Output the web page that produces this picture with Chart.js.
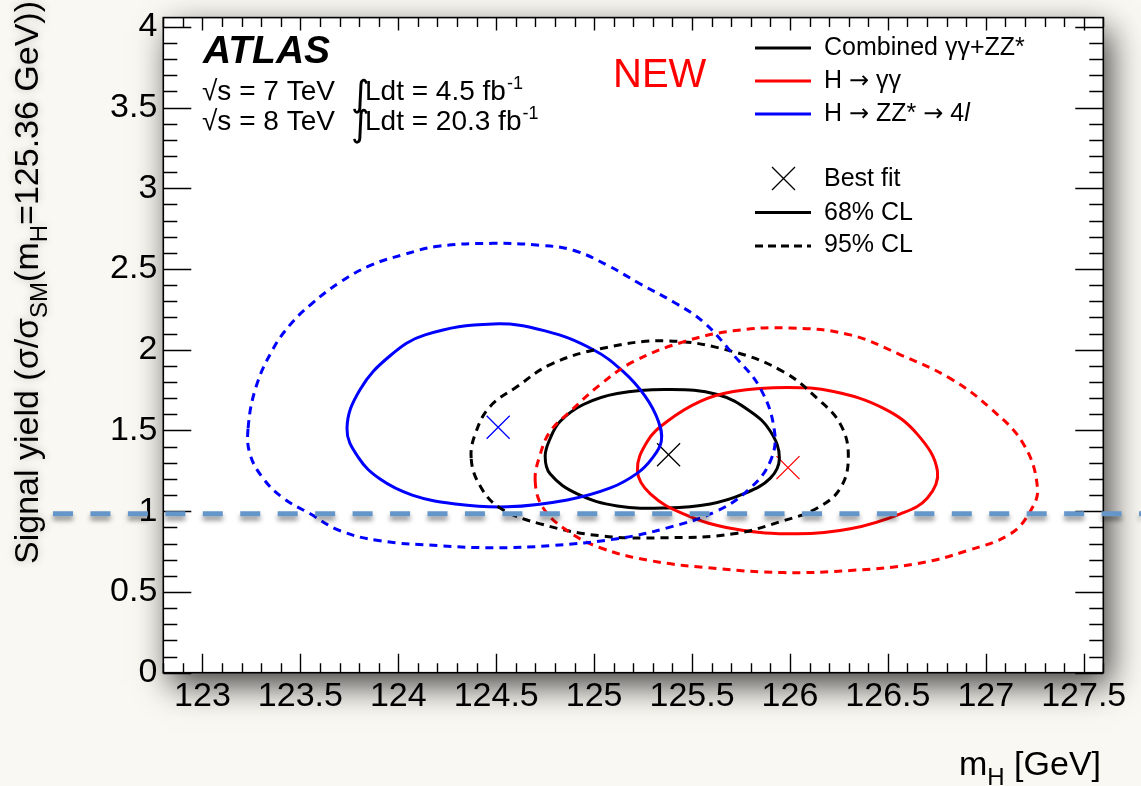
<!DOCTYPE html>
<html><head><meta charset="utf-8">
<script src="https://cdn.jsdelivr.net/npm/chart.js@4.4.0/dist/chart.umd.min.js"></script>
<style>html,body{margin:0;padding:0;background:#faf8f2;overflow:hidden}</style>
</head><body>
<canvas id="c" width="1141" height="786"></canvas>
<script>
// ---------- data ----------
const xTicks = [123, 123.5, 124, 124.5, 125, 125.5, 126, 126.5, 127, 127.5];
const xTickLabels = ['123','123.5','124','124.5','125','125.5','126','126.5','127','127.5'];
const yTicks = [0, 0.5, 1, 1.5, 2, 2.5, 3, 3.5, 4];
const yTickLabels = ['0','0.5','1','1.5','2','2.5','3','3.5','4'];
const xRange = [122.8, 127.6];
const yRange = [0, 4.057];

// H -> ZZ* -> 4l, 68% CL
const zz68X = [123.738,123.805,123.958,124.137,124.485,124.750,124.996,125.149,125.261,125.328,125.343,125.297,125.221,125.083,124.863,124.556,124.291,124.071,123.907,123.795];
const zz68Y = [1.513,1.754,1.963,2.092,2.160,2.117,2.000,1.864,1.711,1.557,1.433,1.329,1.236,1.144,1.070,1.027,1.045,1.100,1.199,1.335];
// H -> ZZ* -> 4l, 95% CL
const zz95X = [123.233,123.274,123.361,123.447,123.550,123.703,123.861,124.035,124.204,124.485,124.725,124.894,125.067,125.236,125.405,125.558,125.711,125.849,125.921,125.900,125.798,125.629,125.374,125.118,124.776,124.485,124.204,123.907,123.703,123.550,123.412,123.309,123.243];
const zz95Y = [1.513,1.772,2.006,2.154,2.277,2.419,2.524,2.592,2.641,2.659,2.647,2.616,2.524,2.407,2.296,2.172,1.969,1.760,1.495,1.310,1.144,1.002,0.897,0.830,0.787,0.774,0.787,0.817,0.879,0.984,1.082,1.205,1.353];
// Combined, 68% CL
const comb68X = [124.750,124.776,124.827,124.945,125.118,125.374,125.629,125.798,125.900,125.946,125.900,125.762,125.593,125.374,125.118,124.914,124.776];
const comb68Y = [1.341,1.452,1.557,1.661,1.729,1.754,1.723,1.618,1.495,1.329,1.205,1.107,1.045,1.020,1.033,1.107,1.230];
// Combined, 95% CL
const comb95X = [124.372,124.398,124.469,124.607,124.776,125.031,125.374,125.711,125.966,126.140,126.258,126.298,126.258,126.140,125.966,125.711,125.374,125.031,124.725,124.520,124.418];
const comb95Y = [1.329,1.495,1.649,1.772,1.908,2.006,2.055,1.988,1.864,1.698,1.538,1.341,1.144,1.020,0.941,0.860,0.836,0.848,0.922,1.020,1.156];
// H -> gamma gamma, 68% CL
const gg68X = [125.221,125.272,125.374,125.542,125.711,125.987,126.222,126.478,126.651,126.753,126.702,126.564,126.308,126.038,125.711,125.456,125.287];
const gg68Y = [1.249,1.433,1.557,1.680,1.741,1.766,1.741,1.637,1.476,1.249,1.082,0.984,0.891,0.860,0.891,0.984,1.107];
// H -> gamma gamma, 95% CL
const gg95X = [124.699,124.725,124.776,124.878,125.031,125.200,125.456,125.711,126.002,126.308,126.564,126.820,127.024,127.193,127.264,127.228,127.126,126.906,126.651,126.308,125.966,125.629,125.287,125.031,124.863,124.740];
const gg95Y = [1.187,1.353,1.495,1.618,1.784,1.926,2.049,2.117,2.135,2.092,1.969,1.821,1.637,1.415,1.144,1.002,0.860,0.756,0.676,0.633,0.620,0.645,0.694,0.774,0.879,1.020];
// best fits: combined, gamma gamma, ZZ
const bestFitX = [125.38, 125.99, 124.51];
const bestFitY = [1.35, 1.27, 1.52];
const smYield = 0.985;

// ---------- helpers ----------
const FONT = "'Liberation Sans', Arial, Helvetica, sans-serif";
function pts(xs, ys){ return xs.map((x,i)=>({x:x, y:ys[i]})); }
function contour(xs, ys, color, dashed){
  return { type:'line', data: pts(xs, ys), borderColor: color, borderWidth: 3,
    borderDash: dashed ? [8,6] : [], pointRadius: 0, fill: false, tension: 0.4, closedLoop: true };
}

// make the contour lines closed, smooth loops
const loopPlugin = {
  id: 'loop',
  beforeDatasetsDraw(chart){
    chart.data.datasets.forEach((ds, i) => {
      if (!ds.closedLoop) return;
      const el = chart.getDatasetMeta(i).dataset;
      if (!el) return;
      el._loop = true; el._fullLoop = true;
      el._pointsUpdated = false; el._segments = undefined; el._path = undefined;
    });
  }
};

function drawSegs(ctx, segs, x, y){
  for (const s of segs){
    ctx.font = s.f;
    ctx.fillText(s.t, x, y + (s.dy || 0));
    x += ctx.measureText(s.t).width + (s.gap || 0);
  }
  return x;
}

const deco = {
  id: 'deco',
  beforeDraw(chart){
    const ctx = chart.ctx, a = chart.chartArea;
    ctx.save();
    ctx.fillStyle = '#faf8f2';
    ctx.fillRect(0, 0, chart.width, chart.height);
    ctx.shadowColor = 'rgba(0,0,0,0.75)';
    ctx.shadowBlur = 32; ctx.shadowOffsetX = 7; ctx.shadowOffsetY = 12;
    ctx.fillStyle = '#ffffff';
    ctx.fillRect(a.left, a.top, a.right - a.left, a.bottom - a.top);
    ctx.restore();

    // y axis title
    ctx.save();
    ctx.translate(38, 564);
    ctx.rotate(-Math.PI/2);
    ctx.fillStyle = '#000';
    ctx.shadowColor = 'rgba(0,0,0,0.25)'; ctx.shadowBlur = 8;
    drawSegs(ctx, [
      {t:'Signal yield (\u03c3/\u03c3', f:'34px '+FONT},
      {t:'SM', f:'24px '+FONT, dy:9},
      {t:'(m', f:'34px '+FONT},
      {t:'H', f:'24px '+FONT, dy:9},
      {t:'=125.36 GeV))', f:'34px '+FONT}], 0, 0);
    ctx.restore();

    // x axis title (right aligned)
    ctx.save();
    ctx.fillStyle = '#000';
    const xsegs = [{t:'m', f:'34px '+FONT},{t:'H', f:'24px '+FONT, dy:10},{t:' [GeV]', f:'34px '+FONT}];
    let tw = 0;
    for (const s of xsegs){ ctx.font = s.f; tw += ctx.measureText(s.t).width; }
    drawSegs(ctx, xsegs, 1101 - tw, 775);
    ctx.restore();
  },
  afterDatasetsDraw(chart){
    const ctx = chart.ctx, a = chart.chartArea;
    const xs = chart.scales.x, ys = chart.scales.y;
    ctx.save();
    ctx.strokeStyle = '#000'; ctx.lineWidth = 1.6;
    ctx.strokeRect(a.left, a.top, a.right - a.left, a.bottom - a.top);
    ctx.lineWidth = 1.4;
    ctx.beginPath();
    for (let i = Math.ceil(xRange[0]*10); i <= Math.floor(xRange[1]*10); i++){
      const p = Math.round(xs.getPixelForValue(i/10)) + 0.5;
      const major = i % 5 === 0;
      ctx.moveTo(p, a.bottom); ctx.lineTo(p, a.bottom - (major ? 19 : 9.5));
      ctx.moveTo(p, a.top); ctx.lineTo(p, a.top + (major ? 13 : 9.5));
    }
    for (let i = 0; i <= Math.floor(yRange[1]*10); i++){
      const p = Math.round(ys.getPixelForValue(i/10)) + 0.5;
      const major = i % 5 === 0;
      ctx.moveTo(a.left, p); ctx.lineTo(a.left + (major ? 28 : 14), p);
      ctx.moveTo(a.right, p); ctx.lineTo(a.right - (major ? 28 : 14), p);
    }
    ctx.stroke();

    // ATLAS label
    ctx.fillStyle = '#000';
    ctx.font = 'italic bold 39px ' + FONT;
    ctx.fillText('ATLAS', 203, 63);
    const lumi = [['\u221As = 7 TeV','Ldt = 4.5 fb',100],['\u221As = 8 TeV','Ldt = 20.3 fb',130]];
    for (const l of lumi){
      ctx.font = '28px ' + FONT;
      ctx.fillText(l[0], 202, l[2]);
      ctx.fillText(l[1], 365, l[2]);
      const w = ctx.measureText(l[1]).width;
      ctx.font = '18px ' + FONT;
      ctx.fillText('-1', 365 + w + 1, l[2] - 11);
      ctx.font = '36px "DejaVu Sans"';
      ctx.fillText('\u222B', 351, l[2] + 6);
    }
    // NEW
    ctx.fillStyle = '#ff0000';
    ctx.font = '40px ' + FONT;
    ctx.fillText('NEW', 613, 87);

    // legend
    const F = '25px ' + FONT, A = '24px "DejaVu Sans"';
    const leg = [
      {c:'#000', d:false, ly:48, ty:55, segs:[{t:'Combined \u03b3\u03b3+ZZ*', f:F}]},
      {c:'#ff0000', d:false, ly:81, ty:88, segs:[{t:'H ', f:F},{t:'\u2192', f:A},{t:' \u03b3\u03b3', f:F}]},
      {c:'#0000ff', d:false, ly:114, ty:121, segs:[{t:'H ', f:F},{t:'\u2192', f:A},{t:' ZZ* ', f:F},{t:'\u2192', f:A},{t:' 4', f:F},{t:'l', f:'italic 25px '+FONT}]},
      {c:'#000', d:false, ly:212.5, ty:220, segs:[{t:'68% CL', f:F}]},
      {c:'#000', d:true, ly:246, ty:252, segs:[{t:'95% CL', f:F}]}
    ];
    ctx.fillStyle = '#000';
    for (const e of leg){
      ctx.strokeStyle = e.c; ctx.lineWidth = 3.2;
      ctx.setLineDash(e.d ? [8,5] : []);
      ctx.beginPath(); ctx.moveTo(755, e.ly); ctx.lineTo(811, e.ly); ctx.stroke();
      ctx.setLineDash([]);
      drawSegs(ctx, e.segs, 824, e.ty);
    }
    ctx.font = F;
    ctx.fillText('Best fit', 824, 186);
    ctx.strokeStyle = '#000'; ctx.lineWidth = 1.3;
    ctx.beginPath();
    ctx.moveTo(772, 167); ctx.lineTo(795, 190);
    ctx.moveTo(795, 167); ctx.lineTo(772, 190);
    ctx.stroke();
    ctx.restore();
  },
  afterDraw(chart){
    const ctx = chart.ctx;
    const y = chart.scales.y.getPixelForValue(smYield);
    ctx.save();
    ctx.strokeStyle = '#6596c9';
    ctx.lineWidth = 5;
    ctx.setLineDash([20, 17.45]);
    ctx.shadowColor = 'rgba(0,0,0,0.45)'; ctx.shadowBlur = 5; ctx.shadowOffsetY = 4;
    ctx.beginPath(); ctx.moveTo(53, y); ctx.lineTo(chart.width, y); ctx.stroke();
    ctx.restore();
  }
};

new Chart(document.getElementById('c'), {
  type: 'line',
  data: {
    datasets: [
      contour(zz95X, zz95Y, '#0000ff', true),
      contour(gg95X, gg95Y, '#ff0000', true),
      contour(comb95X, comb95Y, '#000000', true),
      contour(zz68X, zz68Y, '#0000ff', false),
      contour(gg68X, gg68Y, '#ff0000', false),
      contour(comb68X, comb68Y, '#000000', false),
      { type:'scatter', data: pts(bestFitX, bestFitY),
        pointStyle:'crossRot', pointRadius:16.3, pointBorderWidth:1.3,
        pointBorderColor:['#000000','#ff0000','#0000ff'], pointBackgroundColor:'rgba(0,0,0,0)', showLine:false }
    ]
  },
  options: {
    responsive: false, animation: false, devicePixelRatio: 1,
    layout: { padding: { left: 0, top: 14, right: 37.7, bottom: 0 } },
    plugins: { legend: { display: false }, tooltip: { enabled: false } },
    scales: {
      x: { type: 'linear', min: xRange[0], max: xRange[1],
        grid: { display: false, drawTicks: false }, border: { display: false },
        ticks: { color: '#000', font: { family: FONT, size: 34 }, padding: 4, maxRotation: 0, autoSkip: false,
          callback: (v, i) => xTickLabels[i] },
        afterBuildTicks: s => { s.ticks = xTicks.map(v => ({ value: v })); },
        afterFit: s => { s.height = 786 - 672.7; s.paddingLeft = 0; s.paddingRight = 0; } },
      y: { type: 'linear', min: yRange[0], max: yRange[1],
        grid: { display: false, drawTicks: false }, border: { display: false },
        ticks: { color: '#000', font: { family: FONT, size: 34 }, padding: 6, autoSkip: false,
          callback: (v, i) => yTickLabels[i] },
        afterBuildTicks: s => { s.ticks = yTicks.map(v => ({ value: v })); },
        afterFit: s => { s.width = 163.3; s.paddingTop = 0; s.paddingBottom = 0; } }
    }
  },
  plugins: [loopPlugin, deco]
});
</script>
</body></html>
